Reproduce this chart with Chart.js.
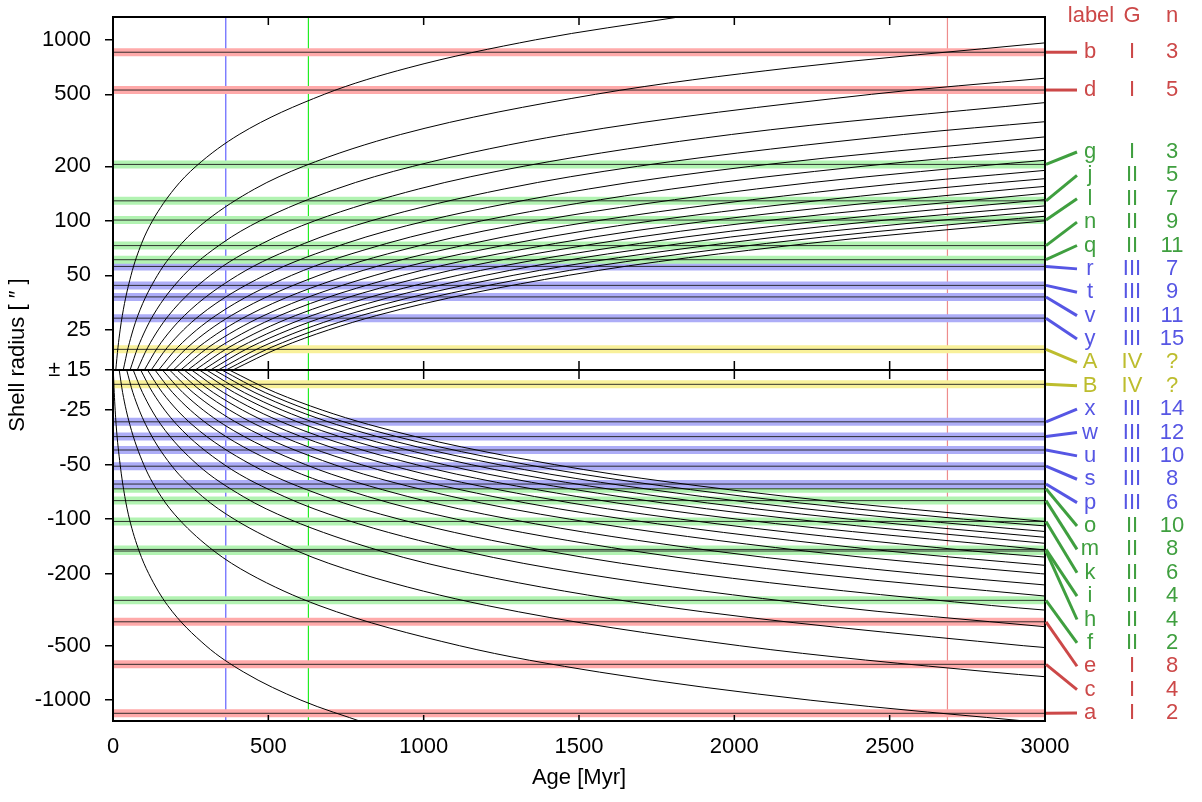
<!DOCTYPE html>
<html lang="en">
<head>
    <meta charset="UTF-8">
    <title>Shell radius vs age</title>
    <script src="https://cdn.jsdelivr.net/npm/chart.js"></script>
    <style>
        body {
            margin: 0;
            background-color: #ffffff;
        }

        .chart-box {
            width: 1202px;
            height: 802px;
        }
    </style>
</head>
<body>
    <div class="chart-box">
        <canvas id="grafico" width="1202" height="802"></canvas>
    </div>

    <script>
        // radius levels (arcsec) and the age (Myr) at which each curve reaches them
        const radiusLevels = [15, 20, 30, 50, 75, 100, 150, 200, 300, 500, 700, 1000, 1340];

        const upperAges = [
            [9, 16, 30, 58, 92, 127, 197, 267, 406, 680, 950, 1360, 1825],
            [33, 49, 80, 143, 221, 300, 456, 613, 926, 1553, 2180],
            [55, 80, 129, 227, 350, 473, 719, 965, 1457, 2441],
            [78, 112, 179, 313, 481, 649, 984, 1320, 1991],
            [101, 144, 230, 401, 616, 830, 1259, 1688, 2545],
            [123, 175, 279, 488, 749, 1009, 1531, 2052],
            [147, 208, 331, 575, 881, 1187, 1799, 2411],
            [170, 240, 381, 663, 1015, 1367, 2071, 2776],
            [194, 274, 434, 755, 1156, 1556, 2358],
            [218, 307, 486, 843, 1289, 1736, 2629],
            [241, 340, 537, 931, 1424, 1918, 2904],
            [265, 373, 588, 1019, 1558, 2097],
            [290, 407, 641, 1110, 1695, 2281],
            [314, 440, 693, 1198, 1829, 2461],
            [339, 475, 746, 1288, 1965, 2643],
            [364, 509, 799, 1379, 2103, 2828],
            [386, 540, 849, 1466, 2238]
        ];
        // radius at 3000 Myr (null = already left the plot)
        const upperAt3000 = [null, 962, 614, 450, 353, 291, 248, 216, 190, 171, 155, 142, 131, 121, 113, 106, 100];

        const lowerAges = [
            [1, 4, 10, 23, 38, 53, 84, 115, 176, 299, 421, 605, 814],
            [20, 31, 54, 99, 155, 212, 325, 438, 663, 1115, 1566, 2244],
            [44, 64, 105, 186, 288, 390, 593, 796, 1203, 2016, 2829],
            [65, 95, 154, 272, 419, 567, 862, 1158, 1749, 2930],
            [89, 128, 205, 358, 551, 743, 1128, 1513, 2283],
            [111, 159, 254, 445, 683, 921, 1398, 1875, 2828],
            [135, 192, 306, 535, 820, 1105, 1676, 2247],
            [159, 225, 356, 620, 949, 1277, 1935, 2593],
            [182, 258, 409, 712, 1091, 1470, 2228, 2985],
            [206, 291, 460, 799, 1223, 1647, 2494],
            [229, 323, 511, 887, 1357, 1827, 2767],
            [253, 356, 563, 976, 1493, 2009],
            [278, 391, 616, 1066, 1629, 2192],
            [301, 423, 666, 1153, 1761, 2369],
            [326, 457, 719, 1242, 1897, 2551],
            [350, 490, 771, 1333, 2035, 2738],
            [374, 524, 823, 1422, 2170, 2919]
        ];
        const lowerAt3000 = [null, 1335, 742, 512, 393, 318, 266, 231, 201, 180, 162, 148, 136, 126, 117, 109, 103];

        // observed shells
        const shellLabels = ['b', 'd', 'g', 'j', 'l', 'n', 'q', 'r', 't', 'v', 'y', 'A', 'B', 'x', 'w', 'u', 's', 'p', 'o', 'm', 'k', 'i', 'h', 'f', 'e', 'c', 'a'];
        const shellRadii = [854, 528, 205, 129, 101, 73, 61, 56, 44, 38, 29, 19.5, -18, -29, -35, -41.5, -51, -64, -68, -79, -103, -147, -150, -281, -369, -634, -1182];
        const shellGen = ['I', 'I', 'I', 'II', 'II', 'II', 'II', 'III', 'III', 'III', 'III', 'IV', 'IV', 'III', 'III', 'III', 'III', 'III', 'II', 'II', 'II', 'II', 'II', 'II', 'I', 'I', 'I'];
        const shellN = ['3', '5', '3', '5', '7', '9', '11', '7', '9', '11', '15', '?', '?', '14', '12', '10', '8', '6', '10', '8', '6', '4', '4', '2', '8', '4', '2'];
        // colour family of each shell
        const shellFamily = ['red', 'red', 'green', 'green', 'green', 'green', 'green', 'blue', 'blue', 'blue', 'blue', 'yellow', 'yellow', 'blue', 'blue', 'blue', 'blue', 'blue', 'green', 'green', 'green', 'green', 'green', 'green', 'red', 'red', 'red'];

        // vertical markers (Myr)
        const markerAges = [363, 629, 2686];

        // axis ticks
        const radiusTicks = [-1000, -500, -200, -100, -50, -25, 15, 25, 50, 100, 200, 500, 1000];
        const radiusTickText = ['-1000', '-500', '-200', '-100', '-50', '-25', '\u00b1 15', '25', '50', '100', '200', '500', '1000'];

        const FONT = "'Liberation Sans', Arial, sans-serif";
        const markerColors = ['#6262ff', '#22ee22', '#ee8c8c'];
        const textColor = { red: '#cc4848', green: '#3f9f3f', blue: '#5656e4', yellow: '#bdbd2e' };
        const fillColor = { red: '#ffaaaa', green: '#b2f3b2', blue: '#adadf7', yellow: '#f9f19a' };
        const Y_MIN = -1.939, Y_MAX = 1.950;

        // signed log scale, folded at |r| = 15
        function toScale(r) {
            return Math.sign(r) * Math.log10(Math.abs(r) / 15);
        }

        function curvePoints(ages, end, sign) {
            const pts = ages.map((a, i) => ({ x: a, y: toScale(sign * radiusLevels[i]) }));
            if (end !== null) pts.push({ x: 3000, y: toScale(sign * end) });
            return pts;
        }

        const datasets = [];

        markerAges.forEach((t, i) => {
            datasets.push({
                data: [{ x: t, y: Y_MIN }, { x: t, y: Y_MAX }],
                borderColor: markerColors[i],
                borderWidth: 1.2,
                order: 4
            });
        });

        shellRadii.forEach((r, i) => {
            const y = toScale(r);
            datasets.push({
                data: [{ x: 0, y: y }, { x: 3000, y: y }],
                borderColor: fillColor[shellFamily[i]],
                borderWidth: 8,
                borderCapStyle: 'butt',
                order: 3
            });
            datasets.push({
                data: [{ x: 0, y: y }, { x: 3000, y: y }],
                borderColor: 'rgba(30,30,30,0.9)',
                borderWidth: 1,
                order: 2
            });
        });

        upperAges.forEach((ages, i) => {
            datasets.push({ data: curvePoints(ages, upperAt3000[i], 1), borderColor: '#000000', borderWidth: 1, cubicInterpolationMode: 'monotone', order: 0 });
        });
        lowerAges.forEach((ages, i) => {
            datasets.push({ data: curvePoints(ages, lowerAt3000[i], -1), borderColor: '#000000', borderWidth: 1, cubicInterpolationMode: 'monotone', order: 0 });
        });

        // frame, centre line, inner ticks, titles and the shell table on the right
        const decorations = {
            id: 'decorations',
            afterDraw(chart) {
                const ctx = chart.ctx;
                const area = chart.chartArea;
                const xs = chart.scales.x;
                const ys = chart.scales.y;
                const yMid = ys.getPixelForValue(0);
                ctx.save();

                ctx.strokeStyle = '#000000';
                ctx.lineWidth = 2;
                ctx.strokeRect(area.left, area.top, area.right - area.left, area.bottom - area.top);
                ctx.beginPath();
                ctx.moveTo(area.left, yMid);
                ctx.lineTo(area.right, yMid);
                ctx.stroke();

                ctx.lineWidth = 1.5;
                for (let t = 500; t < 3000; t += 500) {
                    const px = xs.getPixelForValue(t);
                    ctx.beginPath();
                    ctx.moveTo(px, area.top); ctx.lineTo(px, area.top + 8);
                    ctx.moveTo(px, yMid - 9); ctx.lineTo(px, yMid + 9);
                    ctx.moveTo(px, area.bottom); ctx.lineTo(px, area.bottom - 6);
                    ctx.stroke();
                }

                ctx.fillStyle = '#000000';
                ctx.font = '22px ' + FONT;
                ctx.textAlign = 'center';
                ctx.textBaseline = 'middle';
                ctx.fillText('Age [Myr]', (area.left + area.right) / 2, 778);
                ctx.save();
                ctx.translate(18, 355);
                ctx.rotate(-Math.PI / 2);
                ctx.fillText('Shell radius [ \u2033 ]', 0, 0);
                ctx.restore();

                // table on the right
                const lineEnd = 1077, colLabel = 1090, colGen = 1132, colN = 1172;
                ctx.fillStyle = textColor.red;
                ctx.fillText('label', 1091, 16);
                ctx.fillText('G', colGen, 16);
                ctx.fillText('n', colN, 16);

                const rowTop = 152, rowStep = 23.375;
                shellLabels.forEach((lab, i) => {
                    const col = textColor[shellFamily[i]];
                    const by = ys.getPixelForValue(toScale(shellRadii[i]));
                    const ly = i < 2 ? by : rowTop + (i - 2) * rowStep;
                    ctx.strokeStyle = col;
                    ctx.lineWidth = 3;
                    ctx.beginPath();
                    ctx.moveTo(area.right + 1, by);
                    ctx.lineTo(lineEnd, ly);
                    ctx.stroke();
                    ctx.fillStyle = col;
                    ctx.fillText(lab, colLabel, ly);
                    ctx.fillText(shellGen[i], colGen, ly);
                    ctx.fillText(shellN[i], colN, ly);
                });
                ctx.restore();
            }
        };

        const ctx = document.getElementById('grafico').getContext('2d');
        const chart = new Chart(ctx, {
            type: 'scatter',
            data: { datasets: datasets },
            options: {
                responsive: false,
                animation: false,
                devicePixelRatio: 1,
                showLine: true,
                layout: { padding: { top: 17, right: 157, left: 0, bottom: 0 } },
                elements: { point: { radius: 0, hoverRadius: 0 } },
                plugins: {
                    legend: { display: false },
                    tooltip: { enabled: false }
                },
                scales: {
                    x: {
                        type: 'linear',
                        min: 0,
                        max: 3000,
                        grid: { display: false },
                        border: { display: false },
                        ticks: {
                            stepSize: 500,
                            color: '#000000',
                            padding: 5,
                            maxRotation: 0,
                            font: { family: FONT, size: 22 },
                            callback: (value) => String(value)
                        },
                        afterFit: (s) => {
                            s.height = 81;
                            s.paddingLeft = 0;
                            s.paddingRight = 0;
                        }
                    },
                    y: {
                        type: 'linear',
                        min: Y_MIN,
                        max: Y_MAX,
                        grid: {
                            drawOnChartArea: false,
                            drawTicks: true,
                            tickLength: 8,
                            color: '#000000',
                            lineWidth: 1.5
                        },
                        border: { display: false },
                        afterBuildTicks: (s) => {
                            s.ticks = radiusTicks.map(r => ({ value: toScale(r) }));
                        },
                        ticks: {
                            autoSkip: false,
                            color: '#000000',
                            padding: 14,
                            font: { family: FONT, size: 22 },
                            callback: (value, index) => radiusTickText[index]
                        },
                        afterFit: (s) => {
                            s.width = 113;
                            s.paddingTop = 0;
                            s.paddingBottom = 0;
                        }
                    }
                }
            },
            plugins: [decorations]
        });
    </script>
</body>
</html>
